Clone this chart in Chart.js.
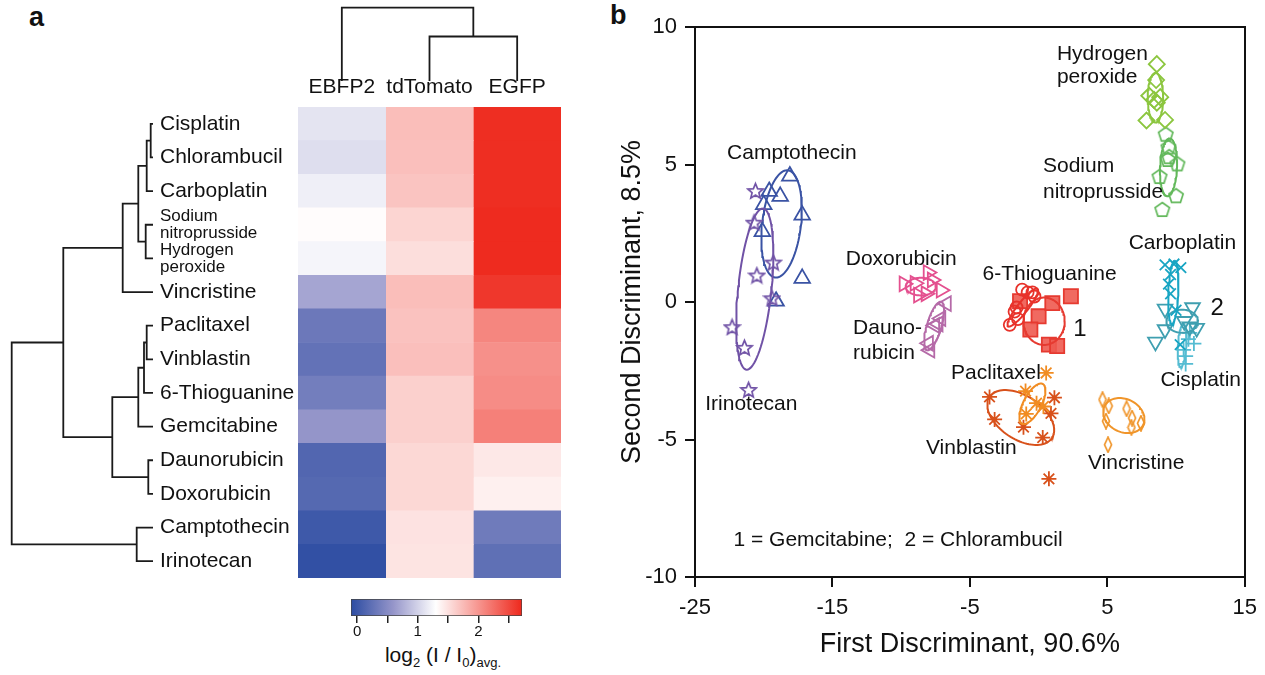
<!DOCTYPE html>
<html>
<head>
<meta charset="utf-8">
<script src="https://cdn.jsdelivr.net/npm/chart.js@4.4.0/dist/chart.umd.min.js"></script>
<style>
  html, body { margin: 0; padding: 0; background: #fff; }
  body { width: 1265px; height: 675px; position: relative; overflow: hidden; font-family: 'Liberation Sans', Arial, sans-serif; color: #111; }
  canvas { position: absolute; }
  .panel { position: absolute; font-weight: bold; font-size: 27px; line-height: 1; }
  #cbarTitle { position: absolute; left: 340px; width: 206px; top: 644px; text-align: center; font-size: 21px; line-height: 1; }
  #cbarTitle sub { font-size: 0.62em; vertical-align: -0.35em; line-height: 0; }
</style>
</head>
<body>
<div class="panel" style="left:29px; top:4px">a</div>
<div class="panel" style="left:610px; top:2px">b</div>
<canvas id="dendroLeft" style="left:0; top:107px" width="156" height="471"></canvas>
<canvas id="dendroTop" style="left:298px; top:3px" width="263" height="79"></canvas>
<canvas id="heatmap" style="left:150px; top:55px" width="415" height="530"></canvas>
<canvas id="colorbar" style="left:340px; top:590px" width="200" height="50"></canvas>
<div id="cbarTitle">log<sub>2</sub> (I / I<sub>0</sub>)<sub>avg.</sub></div>
<canvas id="scatter" style="left:600px; top:0" width="665" height="675"></canvas>
<script>
// ---- panel a: heatmap data ----
const DRUG_LABELS = ['Cisplatin', 'Chlorambucil', 'Carboplatin', ['Sodium', 'nitroprusside'],
  ['Hydrogen', 'peroxide'], 'Vincristine', 'Paclitaxel', 'Vinblastin', '6-Thioguanine',
  'Gemcitabine', 'Daunorubicin', 'Doxorubicin', 'Camptothecin', 'Irinotecan'];
const PROTEINS = ['EBFP2', 'tdTomato', 'EGFP'];

// log2 (I / I0) avg. per drug, one array per reporter
const EBFP2 = [1.12, 1.08, 1.19, 1.32, 1.23, 0.70, 0.32, 0.26, 0.37, 0.59, 0.15, 0.17, 0.02, -0.06];
const TDTOMATO = [1.73, 1.72, 1.69, 1.58, 1.52, 1.73, 1.70, 1.72, 1.61, 1.61, 1.56, 1.56, 1.49, 1.48];
const EGFP = [2.68, 2.68, 2.68, 2.70, 2.70, 2.62, 2.10, 2.03, 2.06, 2.14, 1.45, 1.40, 0.34, 0.24];

// colour scale
const CMAP_VALUES = [-0.1, 0.6, 1.3, 2.72];
const CMAP_COLORS = [[44, 76, 162], [150, 150, 202], [255, 255, 255], [238, 40, 28]];
const CBAR_TICKS = [0, 0.5, 1, 1.5, 2, 2.5];

// dendrograms: [childA, childB, height]; leaves first, new nodes numbered after them
const ROW_LINKS = [[0, 1, 2.3], [14, 2, 6.3], [3, 4, 7.3], [15, 16, 14.7], [17, 5, 30.3],
  [6, 7, 6.3], [19, 8, 9], [20, 9, 14.7], [10, 11, 4.7], [21, 22, 40.7], [18, 23, 89.7],
  [12, 13, 16.3], [24, 25, 141.3]];
const COL_LINKS = [[1, 2, 45.5], [0, 3, 74.3]];

// ---- panel b: discriminant scores ----
const IRINO_X = [-20.6, -20.7, -19.3, -20.5, -19.4, -22.3, -21.4, -21.1];
const IRINO_Y = [4.05, 2.9, 1.45, 0.98, 0.15, -0.9, -1.65, -3.18];
const CAMPTO_X = [-18.1, -19.6, -18.8, -20.0, -17.2, -20.1, -17.2, -19.1];
const CAMPTO_Y = [4.58, 4.02, 3.84, 3.54, 3.16, 2.56, 0.86, 0.03];
const DOXO_X = [-9.8, -9.0, -8.05, -7.75, -7.1, -8.75, -8.2];
const DOXO_Y = [0.66, 0.68, 1.07, 0.8, 0.43, 0.25, 0.3];
const DAUNO_X = [-6.7, -7.1, -7.55, -8.0, -7.9, -7.3];
const DAUNO_Y = [-0.06, -0.6, -0.85, -1.5, -1.75, -0.8];
const THIO_X = [-1.2, -0.8, -0.45, -0.3, -1.6, -1.75, -1.5, -2.1];
const THIO_Y = [0.45, 0.35, 0.35, 0.2, -0.2, -0.35, -0.62, -0.83];
const GEM_X = [-1.35, 0.0, 1.0, 2.35, -0.6, 0.75, 1.35];
const GEM_Y = [0.03, -0.52, -0.04, 0.21, -1.0, -1.55, -1.6];
const PACLI_X = [0.55, -0.95, -0.15, 0.35, -0.9];
const PACLI_Y = [-2.58, -3.24, -3.68, -3.8, -4.07];
const VINBL_X = [-3.57, -3.2, -1.1, 0.3, 1.15, 0.9, 0.75];
const VINBL_Y = [-3.45, -4.27, -4.55, -4.93, -3.48, -4.05, -6.43];
const VINCR_X = [4.65, 5.1, 6.4, 6.8, 7.45, 6.75, 4.9, 5.05];
const VINCR_Y = [-3.55, -3.78, -3.88, -4.22, -4.41, -4.56, -4.33, -5.19];
const H2O2_X = [8.6, 8.55, 8.05, 8.4, 8.85, 8.6, 7.85, 9.2];
const H2O2_Y = [8.65, 8.07, 7.5, 7.35, 7.45, 7.25, 6.6, 6.62];
const SNP_X = [9.25, 9.45, 9.5, 9.4, 10.1, 8.8, 10.0, 9.0];
const SNP_Y = [6.12, 5.65, 5.3, 5.2, 5.04, 4.58, 3.88, 3.38];
const CARBO_X = [9.2, 9.85, 10.35, 9.6, 9.45, 9.6, 10.0, 10.3];
const CARBO_Y = [1.35, 1.38, 1.25, 1.0, 0.65, 0.3, -0.3, -1.55];
const CHLOR_X = [9.2, 11.2, 10.6, 11.5, 11.0, 9.2, 8.5];
const CHLOR_Y = [-0.25, -0.2, -0.7, -0.95, -0.9, -1.0, -1.45];
const CISPL_X = [11.0, 11.3, 10.55, 10.7, 10.7, 10.9];
const CISPL_Y = [-1.12, -1.51, -1.74, -1.97, -2.25, -1.35];

// group ellipses: centre (cx, cy) and two conjugate half-axes (u, v)
const ELLIPSES = {
  irino:  [-20.65, 0.47, 0.58, 2.93, 1.22, 0],
  campto: [-18.7, 2.84, 0.4, 1.95, 1.42, 0],
  doxo:   [-8.57, 0.56, 1.1, 0, 0, 0.32],
  dauno:  [-7.6, -0.87, 0.47, 0.88, 0.55, 0],
  thio:   [-1.15, -0.2, 1.07, 0.68, 0.3, -0.12],
  gem:    [0.4, -0.7, 1.5, 0, 0, 0.86],
  pacli:  [-0.45, -3.7, 0.75, 0.72, 0.58, -0.15],
  vinbl:  [-1.3, -4.2, -2.29, 0.73, 0.82, 0.68],
  vincr:  [6.2, -4.13, 1.5, -0.15, 0.05, 0.62],
  h2o2:   [8.5, 7.43, 0, 0.9, 0.56, 0],
  snp:    [9.45, 4.9, 0.08, 1.05, 0.62, 0],
  carbo:  [9.8, 0.35, 0.1, 1.15, 0.36, 0],
  chlor:  [10.45, -0.7, 1.15, 0, 0, 0.42],
  cispl:  [10.44, -1.58, 0.1, 0.79, 0.3, 0]
};

const PLOT_TEXT = [
  ['Camptothecin', -17.95, 5.4, 'center', 21],
  ['Irinotecan', -20.9, -3.7, 'center', 21],
  ['Doxorubicin', -10.0, 1.57, 'center', 21],
  ['Dauno-', -13.5, -0.96, 'left', 21],
  ['rubicin', -13.5, -1.88, 'left', 21],
  ['6-Thioguanine', 0.8, 1.0, 'center', 21],
  ['1', 3.0, -1.0, 'center', 24],
  ['Paclitaxel', -3.1, -2.6, 'center', 21],
  ['Vinblastin', -4.9, -5.32, 'center', 21],
  ['Vincristine', 7.1, -5.87, 'center', 21],
  ['Hydrogen', 1.33, 9.02, 'left', 21],
  ['peroxide', 1.33, 8.19, 'left', 21],
  ['Sodium', 0.32, 4.92, 'left', 21],
  ['nitroprusside', 0.32, 4.0, 'left', 21],
  ['Carboplatin', 10.46, 2.13, 'center', 21],
  ['2', 13.0, -0.22, 'center', 24],
  ['Cisplatin', 11.8, -2.83, 'center', 21],
  ['1 = Gemcitabine;  2 = Chlorambucil', -22.2, -8.67, 'left', 21]
];

Chart.defaults.font.family = "'Liberation Sans', Arial, Helvetica, sans-serif";
Chart.defaults.color = '#111';

function mix(a, b, t) { return a.map((v, i) => Math.round(v + (b[i] - v) * t)); }
function colorFor(v) {
  let i = 0;
  while (i < CMAP_VALUES.length - 2 && v > CMAP_VALUES[i + 1]) i++;
  let t = (v - CMAP_VALUES[i]) / (CMAP_VALUES[i + 1] - CMAP_VALUES[i]);
  t = Math.max(0, Math.min(1, t));
  const c = mix(CMAP_COLORS[i], CMAP_COLORS[i + 1], t);
  return `rgb(${c[0]},${c[1]},${c[2]})`;
}

function dendroSegments(links, nLeaves, leafH) {
  const pos = [], hgt = [];
  for (let i = 0; i < nLeaves; i++) { pos.push(i); hgt.push(leafH); }
  return links.map(([a, b, h]) => {
    const seg = [[pos[a], hgt[a]], [pos[a], h], [pos[b], h], [pos[b], hgt[b]]];
    pos.push((pos[a] + pos[b]) / 2);
    hgt.push(h);
    return seg;
  });
}

const lineStyle = { showLine: true, borderColor: '#1a1a1a', borderWidth: 1.8, pointRadius: 0, tension: 0, clip: false };
const hidden = { display: false };

// left dendrogram
new Chart(document.getElementById('dendroLeft'), {
  type: 'scatter',
  data: {
    datasets: dendroSegments(ROW_LINKS, DRUG_LABELS.length, 0).map(seg => ({
      ...lineStyle, data: seg.map(([p, h]) => ({ x: h, y: p }))
    }))
  },
  options: {
    responsive: false, animation: false,
    plugins: { legend: hidden, tooltip: { enabled: false } },
    scales: {
      x: { type: 'linear', min: -3, max: 153, reverse: true, display: false },
      y: { type: 'linear', min: -0.5, max: DRUG_LABELS.length - 0.5, reverse: true, display: false }
    }
  }
});

// top dendrogram
new Chart(document.getElementById('dendroTop'), {
  type: 'scatter',
  data: {
    datasets: dendroSegments(COL_LINKS, PROTEINS.length, 1).map(seg => ({
      ...lineStyle, data: seg.map(([p, h]) => ({ x: p + 0.5, y: h }))
    }))
  },
  options: {
    responsive: false, animation: false,
    plugins: { legend: hidden, tooltip: { enabled: false } },
    scales: {
      x: { type: 'linear', min: 0, max: PROTEINS.length, display: false },
      y: { type: 'linear', min: 0, max: 79, display: false }
    }
  }
});

// heatmap: one floating bar per cell
const HEAT = [EBFP2, TDTOMATO, EGFP];
new Chart(document.getElementById('heatmap'), {
  type: 'bar',
  data: {
    labels: DRUG_LABELS,
    datasets: HEAT.map((col, c) => ({
      data: DRUG_LABELS.map(() => [c, c + 1]),
      backgroundColor: col.map(colorFor),
      borderWidth: 0,
      barPercentage: 1,
      categoryPercentage: 1,
      grouped: false
    }))
  },
  options: {
    indexAxis: 'y', responsive: false, animation: false,
    layout: { padding: { left: 10, right: 4, top: 0, bottom: 7 } },
    plugins: { legend: hidden, tooltip: { enabled: false } },
    scales: {
      x: {
        type: 'linear', position: 'top', min: 0, max: PROTEINS.length,
        grid: { display: false, drawTicks: false }, border: { display: false },
        afterBuildTicks: s => { s.ticks = PROTEINS.map((p, i) => ({ value: i + 0.5 })); },
        ticks: { callback: (v, i) => PROTEINS[i], font: { size: 21 }, padding: 7, maxRotation: 0, autoSkip: false },
        afterFit: s => { s.height = 52; s.paddingLeft = 0; s.paddingRight = 0; }
      },
      y: {
        position: 'left',
        grid: { display: false, drawTicks: false }, border: { display: false },
        ticks: {
          crossAlign: 'far', padding: 0, autoSkip: false,
          font: ctx => Array.isArray(DRUG_LABELS[ctx.index]) ? { size: 17, lineHeight: 1.0 } : { size: 21, lineHeight: 1.2 }
        },
        afterFit: s => { s.width = 138; s.paddingTop = 0; s.paddingBottom = 0; }
      }
    }
  }
});

// colour bar
new Chart(document.getElementById('colorbar'), {
  type: 'bar',
  data: {
    labels: [''],
    datasets: [{
      data: [[CMAP_VALUES[0], CMAP_VALUES[CMAP_VALUES.length - 1]]],
      backgroundColor: ctx => {
        const chart = ctx.chart, area = chart.chartArea;
        if (!area) return '#fff';
        const xs = chart.scales.x;
        const g = chart.ctx.createLinearGradient(area.left, 0, area.right, 0);
        CMAP_VALUES.forEach((v, i) => {
          const f = (xs.getPixelForValue(v) - area.left) / (area.right - area.left);
          g.addColorStop(Math.max(0, Math.min(1, f)), colorFor(v));
        });
        return g;
      },
      borderColor: '#444', borderWidth: 1, borderSkipped: false,
      barPercentage: 1, categoryPercentage: 1
    }]
  },
  options: {
    indexAxis: 'y', responsive: false, animation: false,
    layout: { padding: { left: 11, right: 18, top: 9, bottom: 0 } },
    plugins: { legend: hidden, tooltip: { enabled: false } },
    scales: {
      y: { display: false },
      x: {
        type: 'linear', min: CMAP_VALUES[0], max: CMAP_VALUES[CMAP_VALUES.length - 1],
        afterBuildTicks: s => { s.ticks = CBAR_TICKS.map(v => ({ value: v })); },
        ticks: { callback: v => Number.isInteger(v) ? String(v) : '', font: { size: 15 }, padding: 0, autoSkip: false, maxRotation: 0 },
        grid: { drawOnChartArea: false, drawTicks: true, tickLength: 7, color: '#222', lineWidth: 1.5 },
        border: { display: false },
        afterFit: s => { s.height = 24; }
      }
    }
  }
});

// ---- scatter ----
function shapeImage(kind, color, w, h) {
  const c = document.createElement('canvas');
  c.width = w; c.height = h;
  const g = c.getContext('2d');
  g.strokeStyle = color; g.lineWidth = 1.7; g.lineJoin = 'miter';
  g.beginPath();
  const cx = w / 2, cy = h / 2;
  if (kind === 'diamond') {
    g.moveTo(cx, 1); g.lineTo(w - 1.5, cy); g.lineTo(cx, h - 1); g.lineTo(1.5, cy);
  } else {
    const n = kind === 'star' ? 10 : 5, r = Math.min(w, h) / 2 - 1.5;
    for (let i = 0; i < n; i++) {
      const a = -Math.PI / 2 + i * 2 * Math.PI / n;
      const rr = (kind === 'star' && i % 2) ? r * 0.45 : r;
      const px = cx + rr * Math.cos(a), py = cy + 1 + rr * Math.sin(a);
      if (i === 0) g.moveTo(px, py); else g.lineTo(px, py);
    }
  }
  g.closePath(); g.stroke();
  return c;
}

// key, xs, ys, colour, point style, radius, rotation, fill
const SERIES = [
  ['irino', IRINO_X, IRINO_Y, '#7052a6', shapeImage('star', '#7052a6', 19, 19), 7, 0, null],
  ['campto', CAMPTO_X, CAMPTO_Y, '#3a53a4', 'triangle', 9, 0, null],
  ['doxo', DOXO_X, DOXO_Y, '#e4508f', 'triangle', 8.5, 90, null],
  ['dauno', DAUNO_X, DAUNO_Y, '#b56aa8', 'triangle', 8.5, -90, null],
  ['thio', THIO_X, THIO_Y, '#e8322a', 'circle', 6, 0, null],
  ['gem', GEM_X, GEM_Y, '#e63a30', 'rect', 10, 0, 'rgba(238,90,80,0.9)'],
  ['pacli', PACLI_X, PACLI_Y, '#f18c22', 'star', 7.5, 0, null],
  ['vinbl', VINBL_X, VINBL_Y, '#d8511b', 'star', 7.5, 0, null],
  ['vincr', VINCR_X, VINCR_Y, '#f0952a', shapeImage('diamond', '#f0952a', 10, 17), 6, 0, null],
  ['h2o2', H2O2_X, H2O2_Y, '#8cc63f', 'rectRot', 8, 0, null],
  ['snp', SNP_X, SNP_Y, '#62b85a', shapeImage('pentagon', '#62b85a', 18, 18), 7, 0, null],
  ['carbo', CARBO_X, CARBO_Y, '#18a5c3', 'crossRot', 7.5, 0, null],
  ['chlor', CHLOR_X, CHLOR_Y, '#3f9fb0', 'triangle', 8.5, 180, null],
  ['cispl', CISPL_X, CISPL_Y, '#55bcd2', 'cross', 7.5, 0, null]
];

function ellipsePoints(p) {
  const [cx, cy, ux, uy, vx, vy] = p, pts = [];
  for (let k = 0; k <= 90; k++) {
    const t = k / 90 * Math.PI * 2;
    pts.push({ x: cx + ux * Math.cos(t) + vx * Math.sin(t), y: cy + uy * Math.cos(t) + vy * Math.sin(t) });
  }
  return pts;
}

const scatterSets = [];
SERIES.forEach(([key, xs, ys, color, style, r, rot, fill]) => {
  scatterSets.push({
    data: ellipsePoints(ELLIPSES[key]), showLine: true, borderColor: color,
    borderWidth: 2, pointRadius: 0, tension: 0, fill: false
  });
  scatterSets.push({
    data: xs.map((x, i) => ({ x, y: ys[i] })), showLine: false,
    pointStyle: style, pointRadius: r, pointRotation: rot,
    borderColor: color, pointBorderColor: color, pointBorderWidth: 1.8,
    backgroundColor: fill || 'rgba(0,0,0,0)', pointBackgroundColor: fill || 'rgba(0,0,0,0)'
  });
});

const textPlugin = {
  id: 'plotText',
  afterDatasetsDraw(chart) {
    const { ctx, scales: { x, y } } = chart;
    ctx.save();
    ctx.fillStyle = '#111';
    ctx.textBaseline = 'middle';
    PLOT_TEXT.forEach(([txt, tx, ty, align, size]) => {
      ctx.font = `${size}px 'Liberation Sans', Arial, sans-serif`;
      ctx.textAlign = align;
      ctx.fillText(txt, x.getPixelForValue(tx), y.getPixelForValue(ty));
    });
    ctx.restore();
  }
};

const frame = { color: '#111', width: 2 };
new Chart(document.getElementById('scatter'), {
  type: 'scatter',
  data: { datasets: scatterSets },
  plugins: [textPlugin],
  options: {
    responsive: false, animation: false,
    layout: { padding: { left: 0, right: 12, top: 27, bottom: 0 } },
    plugins: { legend: hidden, tooltip: { enabled: false } },
    scales: {
      x: {
        type: 'linear', position: 'bottom', min: -25, max: 15,
        ticks: { stepSize: 10, font: { size: 22 }, padding: 8, maxRotation: 0 },
        grid: { drawOnChartArea: false, tickLength: 10, color: '#111', lineWidth: 2 },
        border: frame,
        title: { display: true, text: 'First Discriminant, 90.6%', font: { size: 27 }, padding: { top: 0, bottom: 14 } },
        afterFit: s => { s.height = 98; }
      },
      y: {
        type: 'linear', position: 'left', min: -10, max: 10,
        ticks: { stepSize: 5, font: { size: 22 }, padding: 8 },
        grid: { drawOnChartArea: false, tickLength: 10, color: '#111', lineWidth: 2 },
        border: frame,
        title: { display: true, text: 'Second Discriminant, 8.5%', font: { size: 27 }, padding: { top: 16, bottom: 0 } },
        afterFit: s => { s.width = 95; }
      },
      x2: {
        type: 'linear', position: 'top', min: -25, max: 15,
        ticks: { display: false }, grid: { display: false, drawTicks: false }, border: frame,
        afterFit: s => { s.height = 0; }
      },
      y2: {
        type: 'linear', position: 'right', min: -10, max: 10,
        ticks: { display: false }, grid: { display: false, drawTicks: false }, border: frame,
        afterFit: s => { s.width = 0; }
      }
    }
  }
});
</script>
</body>
</html>
